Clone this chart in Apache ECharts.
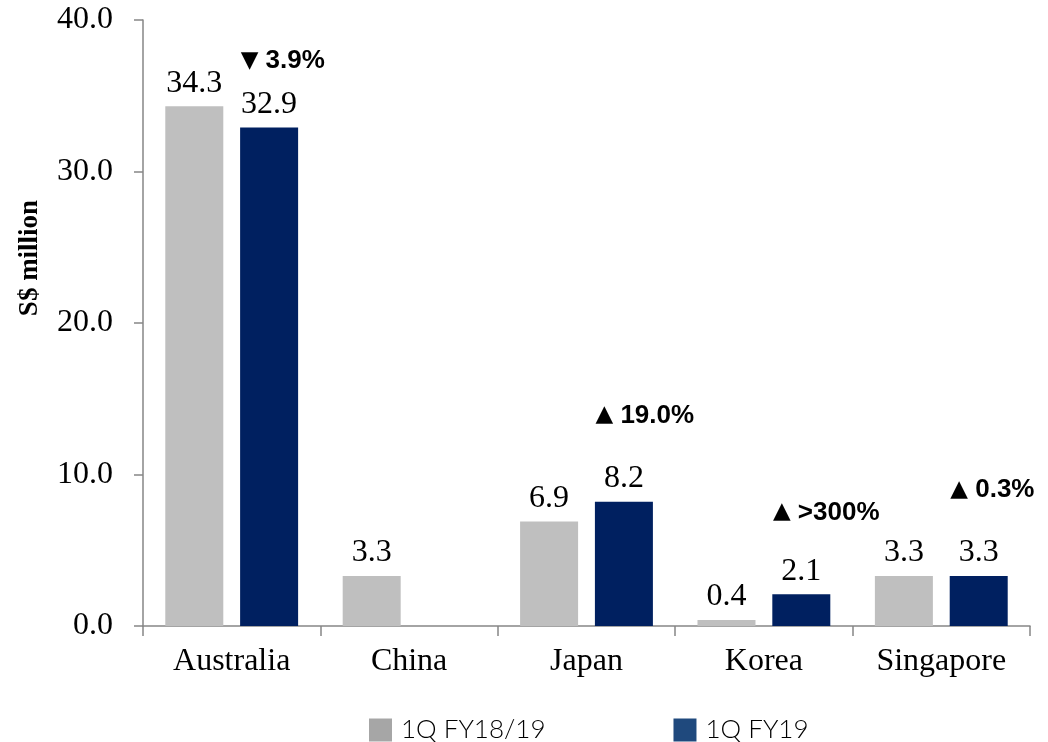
<!DOCTYPE html>
<html>
<head>
<meta charset="utf-8">
<script src="https://cdn.jsdelivr.net/npm/echarts@6/dist/echarts.min.js"></script>
<style>html,body{margin:0;padding:0;background:#fff}#c{width:1048px;height:742px}</style>
</head>
<body>
<div id="c"></div>
<script>
const categories = ['Australia', 'China', 'Japan', 'Korea', 'Singapore'];
const seriesNames = ['1Q FY18/19', '1Q FY19'];
const prevValues = [34.3, 3.3, 6.9, 0.4, 3.3];
const currValues = [32.9, null, 8.2, 2.1, 3.3];
const noteArrows = ['▼', null, '▲', '▲', '▲'];
const noteTexts = ['3.9%', null, '19.0%', '>300%', '0.3%'];
const noteLevels = [37.3, null, 13.9, 7.5, 9.0];
const yTicks = [0, 10, 20, 30, 40];

const serif = 'Liberation Serif';
const chart = echarts.init(document.getElementById('c'));
const noteData = [];
categories.forEach((c, i) => { if (noteTexts[i]) noteData.push({ value: [c, noteLevels[i]], arrow: noteArrows[i], text: noteTexts[i] }); });

chart.setOption({
  animation: false,
  grid: { left: 143, right: 18, top: 20, bottom: 116, containLabel: false },
  legend: {
    left: 364, top: 712, itemWidth: 23, itemHeight: 23, itemGap: 128,
    textStyle: { fontFamily: 'Lato', fontWeight: 300, fontSize: 26, color: '#000', padding: [0, 0, 0, 4] },
    data: [
      { name: seriesNames[0], icon: 'rect', itemStyle: { color: '#a6a6a6' } },
      { name: seriesNames[1], icon: 'rect', itemStyle: { color: '#1f497d' } }
    ]
  },
  graphic: [{
    type: 'text', x: 30, y: 258, rotation: Math.PI / 2,
    style: { text: 'S$ million', fontFamily: serif, fontWeight: 'bold', fontSize: 27, fill: '#000', align: 'center', verticalAlign: 'middle' }
  }],
  xAxis: {
    type: 'category', data: categories,
    axisLine: { lineStyle: { color: '#868686', width: 1.5 } },
    axisTick: { show: true, length: 10, lineStyle: { color: '#868686', width: 1.5 } },
    axisLabel: { fontFamily: serif, fontSize: 32, color: '#000', margin: 20 }
  },
  yAxis: {
    type: 'value', min: yTicks[0], max: yTicks[yTicks.length - 1], interval: yTicks[1] - yTicks[0],
    axisLine: { show: true, lineStyle: { color: '#868686', width: 1.5 } },
    axisTick: { show: true, length: 9, lineStyle: { color: '#868686', width: 1.5 } },
    splitLine: { show: false },
    axisLabel: { fontFamily: serif, fontSize: 32, color: '#000', margin: 30, formatter: v => v.toFixed(1) }
  },
  series: [
    {
      name: seriesNames[0], type: 'bar', data: prevValues, barWidth: 58, barGap: '29%',
      itemStyle: { color: '#bfbfbf' },
      label: { show: true, position: 'top', distance: 7, fontFamily: serif, fontSize: 32, color: '#000', formatter: p => p.value.toFixed(1) }
    },
    {
      name: seriesNames[1], type: 'bar', data: currValues, barWidth: 58,
      itemStyle: { color: '#002060' },
      label: { show: true, position: 'top', distance: 7, fontFamily: serif, fontSize: 32, color: '#000', formatter: p => p.value == null ? '' : p.value.toFixed(1) }
    },
    {
      name: 'notes', type: 'scatter', data: noteData, symbolSize: 1,
      itemStyle: { color: 'rgba(255,255,255,0)', opacity: 1 }, silent: true,
      label: {
        show: true, position: 'inside', align: 'left', verticalAlign: 'middle', offset: [9, 0],
        textBorderWidth: 0, color: '#000',
        formatter: p => '{a|' + p.data.arrow + '}{v| ' + p.data.text + '}',
        rich: {
          a: { fontFamily: 'DejaVu Sans', fontSize: 23, color: '#000', textBorderWidth: 0 },
          v: { fontFamily: 'Liberation Sans', fontWeight: 'bold', fontSize: 26, color: '#000', textBorderWidth: 0 }
        }
      }
    }
  ]
});
</script>
</body>
</html>
